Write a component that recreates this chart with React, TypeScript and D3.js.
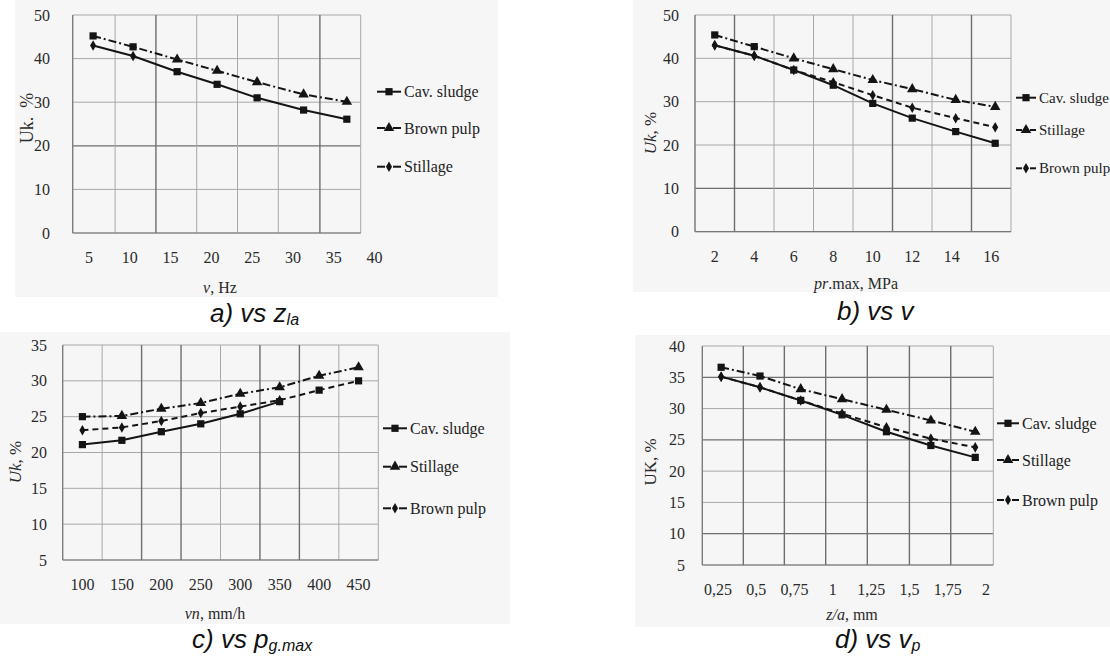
import React from "react";
import * as d3 from "d3";

// ---------------- Panel a) ----------------
const aXTickValues = [5, 10, 15, 20, 25, 30, 35, 40];
const aXTickLabels = ["5", "10", "15", "20", "25", "30", "35", "40"];
const aXGrid = [3.0, 8.2, 13.2, 18.2, 23.2, 28.2, 33.3, 38.3];
const aYTicks = [0, 10, 20, 30, 40, 50];
const aPointX = [5.5, 10.4, 15.8, 20.7, 25.6, 31.3, 36.6];
const aUpper = [45.2, 42.7, 39.8, 37.2, 34.6, 31.8, 30.1];
const aLower = [43.0, 40.6, 37.0, 34.1, 31.0, 28.2, 26.1];
const aUpperMarks = ["s", "s", "t", "t", "t", "t", "t"];
const aLowerMarks = ["d", "d", "s", "s", "s", "s", "s"];
const aLegendNames = ["Cav. sludge", "Brown pulp", "Stillage"];

// ---------------- Panel b) ----------------
const bXTickValues = [2, 4, 6, 8, 10, 12, 14, 16];
const bXTickLabels = ["2", "4", "6", "8", "10", "12", "14", "16"];
const bXGrid = [1, 3, 5, 7, 9, 11, 13, 15, 17];
const bYTicks = [0, 10, 20, 30, 40, 50];
const bPointX = [2, 4, 6, 8, 10, 12, 14.2, 16.2];
const bUpper = [45.4, 42.7, 40.0, 37.5, 35.0, 32.9, 30.4, 28.8];
const bMiddle = [43.0, 40.6, 37.3, 34.5, 31.5, 28.6, 26.2, 24.1];
const bLower = [43.0, 40.6, 37.3, 33.8, 29.6, 26.2, 23.1, 20.4];
const bUpperMarks = ["s", "s", "t", "t", "t", "t", "t", "t"];
const bMiddleMarks = ["d", "d", "d", "d", "d", "d", "d", "d"];
const bLowerMarks = ["d", "d", "s", "s", "s", "s", "s", "s"];
const bLegendNames = ["Cav. sludge", "Stillage", "Brown pulp"];

// ---------------- Panel c) ----------------
const cXTickValues = [100, 150, 200, 250, 300, 350, 400, 450];
const cXTickLabels = ["100", "150", "200", "250", "300", "350", "400", "450"];
const cXGrid = [75, 125, 175, 225, 275, 325, 375, 425, 475];
const cYTicks = [5, 10, 15, 20, 25, 30, 35];
const cPointX = [100, 150, 200, 250, 300, 350, 400, 450];
const cUpper = [25.0, 25.1, 26.1, 26.9, 28.2, 29.1, 30.7, 31.9];
const cMiddle = [23.1, 23.5, 24.4, 25.5, 26.4, 27.3, 28.7, 30.0];
const cLower = [21.1, 21.7, 22.9, 24.0, 25.4, 27.1, null, null];
const cUpperMarks = ["s", "t", "t", "t", "t", "t", "t", "t"];
const cMiddleMarks = ["d", "d", "d", "d", "d", "d", "s", "s"];
const cLowerMarks = ["s", "s", "s", "s", "s", "s", "s", "s"];
const cLegendNames = ["Cav. sludge", "Stillage", "Brown pulp"];

// ---------------- Panel d) ----------------
const dXTickValues = [0.25, 0.5, 0.75, 1, 1.25, 1.5, 1.75, 2];
const dXTickLabels = ["0,25", "0,5", "0,75", "1", "1,25", "1,5", "1,75", "2"];
const dXGrid = [0.147, 0.415, 0.683, 0.953, 1.225, 1.5, 1.77, 2.048];
const dYTicks = [5, 10, 15, 20, 25, 30, 35, 40];
const dPointX = [0.27, 0.524, 0.79, 1.06, 1.35, 1.64, 1.93];
const dUpper = [36.6, 35.2, 33.1, 31.5, 29.8, 28.1, 26.3];
const dMiddle = [35.1, 33.4, 31.3, 29.2, 27.0, 25.2, 23.8];
const dLower = [35.1, 33.4, 31.3, 29.0, 26.3, 24.1, 22.2];
const dUpperMarks = ["s", "s", "t", "t", "t", "t", "t"];
const dMiddleMarks = ["d", "d", "d", "d", "d", "d", "d"];
const dLowerMarks = ["d", "d", "s", "s", "s", "s", "s"];
const dLegendNames = ["Cav. sludge", "Stillage", "Brown pulp"];

const SERIF = "'Liberation Serif', 'DejaVu Serif', serif";
const SANS = "'Liberation Sans', Arial, sans-serif";
const INK = "#141414";
const DASHED = "6,4";
const DASHDOT = "8,3,2,3";

function symbolPath(shape: string) {
  if (shape === "s") return d3.symbol().type(d3.symbolSquare).size(52)()!;
  if (shape === "t") return d3.symbol().type(d3.symbolTriangle).size(48)()!;
  return d3.symbol().type(d3.symbolDiamond).size(32)()!;
}

type Series = { xs: number[]; ys: (number | null)[]; marks: string[]; dash: string | null };
type LegendItem = { name: string; dash: string | null; mark: string };

type PanelProps = {
  bg: { x: number; y: number; w: number; h: number };
  plot: { l: number; r: number; t: number; b: number };
  xDomain: [number, number];
  yDomain: [number, number];
  xGrid: number[];
  xGridDark: number[];
  yTicks: number[];
  yGridDark: number[];
  xTickValues: number[];
  xTickLabels: string[];
  xTickBaseline: number;
  yLabelRight: number;
  yTitle: React.ReactNode;
  yTitlePos: [number, number];
  yTitleSize: number;
  xTitle: React.ReactNode;
  xTitlePos: [number, number];
  series: Series[];
  legend: LegendItem[];
  legendX: number;
  legendTextX: number;
  legendYs: number[];
  legendSize: number;
};

function Panel(p: PanelProps) {
  const x = d3.scaleLinear().domain(p.xDomain).range([p.plot.l, p.plot.r]);
  const y = d3.scaleLinear().domain(p.yDomain).range([p.plot.b, p.plot.t]);
  return (
    <g>
      <rect x={p.bg.x} y={p.bg.y} width={p.bg.w} height={p.bg.h} fill="#f6f6f6" />
      {p.yTicks.map((t) => (
        <line
          key={"yg" + t}
          x1={p.plot.l}
          x2={p.plot.r}
          y1={y(t)}
          y2={y(t)}
          stroke={p.yGridDark.includes(t) ? "#6e6e6e" : "#a8a8a8"}
          strokeWidth={p.yGridDark.includes(t) ? 1.3 : 1}
        />
      ))}
      {p.xGrid.map((g) => (
        <line
          key={"xg" + g}
          x1={x(g)}
          x2={x(g)}
          y1={p.plot.t}
          y2={p.plot.b}
          stroke={p.xGridDark.includes(g) ? "#6e6e6e" : "#a8a8a8"}
          strokeWidth={p.xGridDark.includes(g) ? 1.4 : 1}
        />
      ))}
      <line x1={p.plot.l} x2={p.plot.l} y1={p.plot.t} y2={p.plot.b} stroke="#777" strokeWidth={1.2} />
      <line x1={p.plot.l} x2={p.plot.r} y1={p.plot.b} y2={p.plot.b} stroke="#777" strokeWidth={1.2} />
      {p.yTicks.map((t) => (
        <text
          key={"yl" + t}
          x={p.yLabelRight}
          y={y(t)}
          textAnchor="end"
          dominantBaseline="central"
          fontFamily={SERIF}
          fontSize={16}
          fill="#2a2a2a"
        >
          {t}
        </text>
      ))}
      {p.xTickValues.map((t, i) => (
        <text
          key={"xl" + t}
          x={x(t)}
          y={p.xTickBaseline}
          textAnchor="middle"
          fontFamily={SERIF}
          fontSize={16}
          fill="#2a2a2a"
        >
          {p.xTickLabels[i]}
        </text>
      ))}
      <text
        transform={`translate(${p.yTitlePos[0]},${p.yTitlePos[1]}) rotate(-90)`}
        textAnchor="middle"
        dominantBaseline="central"
        fontFamily={SERIF}
        fontSize={p.yTitleSize}
        fill="#2a2a2a"
      >
        {p.yTitle}
      </text>
      <text
        x={p.xTitlePos[0]}
        y={p.xTitlePos[1]}
        textAnchor="middle"
        fontFamily={SERIF}
        fontSize={16}
        fill="#2a2a2a"
      >
        {p.xTitle}
      </text>
      {p.series.map((s, si) => {
        const idx = s.ys.map((_, i) => i);
        const line = d3
          .line<number>()
          .defined((i) => s.ys[i] != null)
          .x((i) => x(s.xs[i]))
          .y((i) => y(s.ys[i] as number));
        return (
          <g key={"s" + si}>
            <path
              d={line(idx) || ""}
              fill="none"
              stroke={INK}
              strokeWidth={2}
              strokeDasharray={s.dash || undefined}
            />
            {idx
              .filter((i) => s.ys[i] != null)
              .map((i) => (
                <path
                  key={i}
                  d={symbolPath(s.marks[i])}
                  transform={`translate(${x(s.xs[i])},${y(s.ys[i] as number)})`}
                  fill={INK}
                />
              ))}
          </g>
        );
      })}
      {p.legend.map((l, i) => {
        const cy = p.legendYs[i];
        const x0 = p.legendX;
        const x1 = p.legendTextX - 3;
        const mid = (x0 + x1) / 2;
        return (
          <g key={"lg" + i}>
            {l.dash ? (
              <>
                <line x1={x0} x2={mid - 4} y1={cy} y2={cy} stroke={INK} strokeWidth={2} />
                <line x1={mid + 4} x2={x1} y1={cy} y2={cy} stroke={INK} strokeWidth={2} />
              </>
            ) : (
              <line x1={x0} x2={x1} y1={cy} y2={cy} stroke={INK} strokeWidth={2} />
            )}
            <path d={symbolPath(l.mark)} transform={`translate(${mid},${cy})`} fill={INK} />
            <text
              x={p.legendTextX}
              y={cy}
              dominantBaseline="central"
              fontFamily={SERIF}
              fontSize={p.legendSize}
              fill="#222"
            >
              {l.name}
            </text>
          </g>
        );
      })}
    </g>
  );
}

function Caption({ x, y, main, sub }: { x: number; y: number; main: string; sub: string }) {
  return (
    <text x={x} y={y} fontFamily={SANS} fontStyle="italic" fontSize={26} fill="#111">
      {main}
      {sub ? (
        <tspan fontSize={16} dy={3}>
          {sub}
        </tspan>
      ) : null}
    </text>
  );
}

export default function App() {
  const it = (s: string) => <tspan fontStyle="italic">{s}</tspan>;
  return (
    <svg
      width={1110}
      height={656}
      style={{ position: "absolute", left: 0, top: 0, background: "#fff" }}
    >
      <Panel
        bg={{ x: 15, y: 0, w: 483, h: 297 }}
        plot={{ l: 72.7, r: 360.7, t: 15, b: 233 }}
        xDomain={[aXGrid[0], aXGrid[aXGrid.length - 1]]}
        yDomain={[0, 50]}
        xGrid={aXGrid}
        xGridDark={[13.2, 33.3]}
        yTicks={aYTicks}
        yGridDark={[20]}
        xTickValues={aXTickValues}
        xTickLabels={aXTickLabels}
        xTickBaseline={263}
        yLabelRight={50}
        yTitle={"Uk.\u2002%"}
        yTitlePos={[27, 118]}
        yTitleSize={18}
        xTitle={<>{it("v")}, Hz</>}
        xTitlePos={[220, 293]}
        series={[
          { xs: aPointX, ys: aUpper, marks: aUpperMarks, dash: DASHDOT },
          { xs: aPointX, ys: aLower, marks: aLowerMarks, dash: null },
        ]}
        legend={[
          { name: aLegendNames[0], dash: null, mark: "s" },
          { name: aLegendNames[1], dash: DASHED, mark: "t" },
          { name: aLegendNames[2], dash: DASHED, mark: "d" },
        ]}
        legendX={377}
        legendTextX={404}
        legendYs={[91.7, 128, 166.7]}
        legendSize={16}
      />
      <Panel
        bg={{ x: 633, y: 0, w: 477, h: 292 }}
        plot={{ l: 695, r: 1011, t: 15, b: 231.7 }}
        xDomain={[1, 17]}
        yDomain={[0, 50]}
        xGrid={bXGrid}
        xGridDark={[3, 11, 15]}
        yTicks={bYTicks}
        yGridDark={[10]}
        xTickValues={bXTickValues}
        xTickLabels={bXTickLabels}
        xTickBaseline={262}
        yLabelRight={679}
        yTitle={<>{it("Uk,")} %</>}
        yTitlePos={[650, 133]}
        yTitleSize={17}
        xTitle={<>{it("pr")}.max, MPa</>}
        xTitlePos={[856, 289]}
        series={[
          { xs: bPointX, ys: bUpper, marks: bUpperMarks, dash: DASHDOT },
          { xs: bPointX, ys: bMiddle, marks: bMiddleMarks, dash: DASHED },
          { xs: bPointX, ys: bLower, marks: bLowerMarks, dash: null },
        ]}
        legend={[
          { name: bLegendNames[0], dash: null, mark: "s" },
          { name: bLegendNames[1], dash: DASHDOT, mark: "t" },
          { name: bLegendNames[2], dash: DASHED, mark: "d" },
        ]}
        legendX={1016}
        legendTextX={1039}
        legendYs={[97.7, 130, 168.3]}
        legendSize={15}
      />
      <Panel
        bg={{ x: 0, y: 332, w: 510, h: 292 }}
        plot={{ l: 62.7, r: 378.3, t: 345, b: 560 }}
        xDomain={[75, 475]}
        yDomain={[5, 35]}
        xGrid={cXGrid}
        xGridDark={[175, 225, 325, 375]}
        yTicks={cYTicks}
        yGridDark={[]}
        xTickValues={cXTickValues}
        xTickLabels={cXTickLabels}
        xTickBaseline={590}
        yLabelRight={47}
        yTitle={<>{it("Uk")}, %</>}
        yTitlePos={[15, 462]}
        yTitleSize={17}
        xTitle={<>{it("vn")}, mm/h</>}
        xTitlePos={[215, 619]}
        series={[
          { xs: cPointX, ys: cUpper, marks: cUpperMarks, dash: DASHDOT },
          { xs: cPointX, ys: cMiddle, marks: cMiddleMarks, dash: DASHED },
          { xs: cPointX, ys: cLower, marks: cLowerMarks, dash: null },
        ]}
        legend={[
          { name: cLegendNames[0], dash: null, mark: "s" },
          { name: cLegendNames[1], dash: DASHDOT, mark: "t" },
          { name: cLegendNames[2], dash: DASHED, mark: "d" },
        ]}
        legendX={383}
        legendTextX={410}
        legendYs={[428.3, 466.7, 508.3]}
        legendSize={16}
      />
      <Panel
        bg={{ x: 635, y: 335, w: 475, h: 292 }}
        plot={{ l: 702.3, r: 993.3, t: 346, b: 565 }}
        xDomain={[dXGrid[0], dXGrid[dXGrid.length - 1]]}
        yDomain={[5, 40]}
        xGrid={dXGrid}
        xGridDark={[0.415, 0.683, 0.953, 1.225, 1.5, 1.77]}
        yTicks={dYTicks}
        yGridDark={[10, 25, 35]}
        xTickValues={dXTickValues}
        xTickLabels={dXTickLabels}
        xTickBaseline={595}
        yLabelRight={685}
        yTitle={"UK, %"}
        yTitlePos={[650, 462]}
        yTitleSize={17}
        xTitle={<>{it("z/a")}, mm</>}
        xTitlePos={[852, 620]}
        series={[
          { xs: dPointX, ys: dUpper, marks: dUpperMarks, dash: DASHDOT },
          { xs: dPointX, ys: dMiddle, marks: dMiddleMarks, dash: DASHED },
          { xs: dPointX, ys: dLower, marks: dLowerMarks, dash: null },
        ]}
        legend={[
          { name: dLegendNames[0], dash: null, mark: "s" },
          { name: dLegendNames[1], dash: DASHDOT, mark: "t" },
          { name: dLegendNames[2], dash: DASHED, mark: "d" },
        ]}
        legendX={997}
        legendTextX={1022}
        legendYs={[423.3, 460, 500]}
        legendSize={16}
      />
      <Caption x={210} y={322} main="a) vs z" sub="la" />
      <Caption x={837} y={320} main="b) vs v" sub="" />
      <Caption x={192} y={648} main="c) vs p" sub="g.max" />
      <Caption x={835} y={648} main="d) vs v" sub="p" />
    </svg>
  );
}
